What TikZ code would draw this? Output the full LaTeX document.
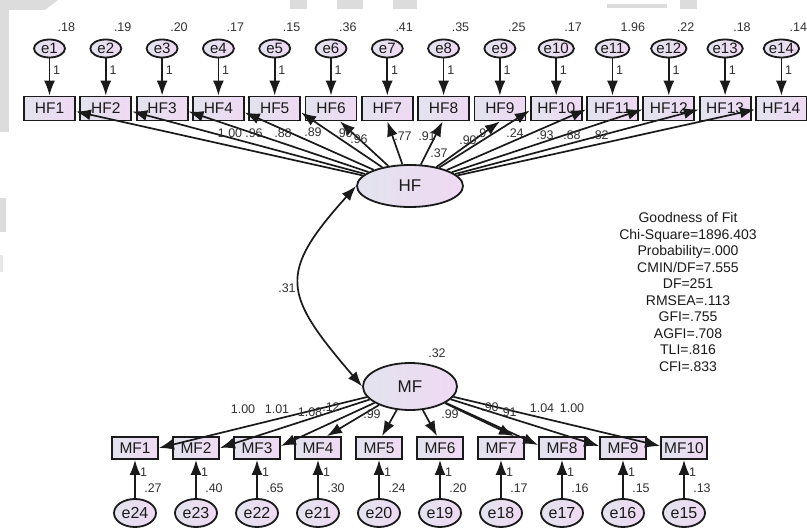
\documentclass[tikz,border=0pt]{standalone}
\usepackage{fontspec}
\setmainfont{Liberation Sans}
\usetikzlibrary{arrows.meta,shapes.geometric}
\definecolor{boxL}{HTML}{E2E3EE}
\definecolor{boxR}{HTML}{EFD9F3}
\definecolor{ink}{HTML}{1A1A1A}
\definecolor{wm}{HTML}{DCDCDC}
\begin{document}
\begin{tikzpicture}[x=1pt,y=-1pt,
  obs/.style={draw=ink, line width=1.8pt, left color=boxL, right color=boxR,
    minimum width=51pt, minimum height=24pt, inner sep=0pt, text=ink,
    font=\fontsize{15.5}{15.5}\selectfont},
  obsm/.style={obs, minimum width=46pt, minimum height=22pt},
  err/.style={ellipse, draw=ink, line width=1.8pt, left color=boxL, right color=boxR,
    minimum width=31pt, minimum height=18pt, inner sep=0pt, text=ink,
    font=\fontsize{15}{15}\selectfont},
  errm/.style={err, minimum width=42pt, minimum height=28pt,
    font=\fontsize{16}{16}\selectfont},
  lat/.style={ellipse, draw=ink, line width=1.8pt, left color=boxL, right color=boxR,
    inner sep=0pt, text=ink, font=\fontsize{17}{17}\selectfont},
  load/.style={draw=ink, line width=1.7pt, -{Latex[length=15pt,width=11pt]}},
  num/.style={inner sep=0pt, text=ink!90, font=\fontsize{12.5}{12.5}\selectfont},
]
\useasboundingbox (0,0) rectangle (807,529);
\fill[white] (0,0) rectangle (807,529);

% faint grey marks along the top and left edges
\fill[wm] (0,0) rectangle (9,132);
\fill[wm] (0,0) -- (58,0) -- (45,10) -- (9,10) -- cycle;
\fill[wm] (0,198) rectangle (6,232);
\fill[wm!70] (0,255) rectangle (3,272);
\fill[wm] (290,0) rectangle (307,9);
\fill[wm] (337,0) rectangle (363,9);
\fill[wm] (393,0) rectangle (417,9);
\fill[wm] (607,4) rectangle (667,8);
\fill[wm] (680,0) rectangle (697,9);

% HF indicators with their error terms
\foreach \i/\v in {1/.18,2/.19,3/.20,4/.17,5/.15,6/.36,7/.41,8/.35,9/.25,10/.17,11/1.96,12/.22,13/.18,14/.14}{
  \pgfmathsetmacro\x{49.5+56.3*(\i-1)}
  \node[obs] (HF\i) at (\x,108.5) {HF\i};
  \node[err] (e\i) at (\x,48.5) {e\i};
  \draw[load] (e\i) -- (HF\i);
  \node[num, anchor=west] (w\i) at (\x+3.5,70) {1};
  \node[num, anchor=west] (v\i) at (\x+8,27) {\v};
}

% MF indicators with their error terms
\foreach \i/\v in {1/.27,2/.40,3/.65,4/.30,5/.24,6/.20,7/.17,8/.16,9/.15,10/.13}{
  \pgfmathsetmacro\x{135+61*(\i-1)}
  \pgfmathtruncatemacro\k{25-\i}
  \node[obsm] (MF\i) at (\x,448) {MF\i};
  \node[errm] (e\k) at (\x,513) {e\k};
  \draw[load] (e\k) -- (MF\i);
  \node[num, anchor=west] (u\i) at (\x+5,472) {1};
  \node[num] (r\i) at (\x+18,488) {\v};
}

% latent factors
\node[lat, minimum width=106pt, minimum height=42pt] (HF) at (410,186) {HF};
\node[lat, minimum width=94pt, minimum height=47pt] (MF) at (410,386.5) {MF};
\node[num] (hfvar) at (439,153) {.37};
\node[num] (mfvar) at (437,353) {.32};

% covariance
\draw[draw=ink, line width=1.7pt, {Latex[length=15pt,width=11pt]}-{Latex[length=15pt,width=11pt]}]
  (HF.west) .. controls (277,274) and (283,294) .. (MF.west);
\node[num] (cov) at (287,288) {.31};

% HF loadings
\draw[load] (HF) -- ([yshift=-3pt]HF1.east);
\draw[load] (HF) -- ([yshift=-3pt]HF2.east);
\draw[load] (HF) -- ([yshift=-3pt]HF3.east);
\draw[load] (HF) -- ([yshift=-4pt]HF4.east);
\draw[load] (HF) -- ([yshift=-4pt]HF5.east);
\draw[load] (HF) -- ([xshift=9pt]HF6.south);
\draw[load] (HF) -- (HF7.south);
\draw[load] (HF) -- ([xshift=-1pt]HF8.south);
\draw[load] (HF) -- (HF9.south);
\draw[load] (HF) -- ([yshift=-2pt]HF10.west);
\draw[load] (HF) -- ([yshift=-1pt]HF11.west);
\draw[load] (HF) -- ([yshift=-1pt]HF12.west);
\draw[load] (HF) -- ([yshift=-1pt]HF13.west);
\draw[load] (HF) -- ([yshift=-1pt]HF14.west);

\node[num] (lh1) at (230,133) {1.00};
\node[num] (lh2) at (254,133) {.96};
\node[num] (lh3) at (283,133) {.88};
\node[num] (lh4) at (313,132) {.89};
\node[num] (lh5) at (344,133) {.90};
\node[num] (lh6) at (359,139) {.96};
\node[num] (lh7) at (403,136) {.77};
\node[num] (lh8) at (427,136) {.91};
\node[num] (lh9) at (468,140) {.90};
\node[num] (lh10) at (481,133) {.9};
\node[num] (lh11) at (515,133) {.24};
\node[num] (lh12) at (545,135) {.93};
\node[num] (lh13) at (572,135) {.88};
\node[num] (lh14) at (600,135) {.82};

% MF loadings
\draw[load] (MF) -- (MF1.east);
\draw[load] (MF) -- (MF2.east);
\draw[load] (MF) -- ([yshift=2pt]MF3.east);
\draw[load] (MF) -- ([xshift=9pt]MF4.north);
\draw[load] (MF) -- ([xshift=3pt]MF5.north);
\draw[load] (MF) -- ([xshift=-3pt]MF6.north);
\draw[load] (MF) -- ([xshift=13pt]MF7.north);
\draw[load] (MF) -- ([yshift=3pt]MF8.west);
\draw[load] (MF) -- ([yshift=2pt]MF9.west);
\draw[load] (MF) -- ([yshift=2pt]MF10.west);

\node[num] (lm1) at (243,409) {1.00};
\node[num] (lm2) at (277,409) {1.01};
\node[num] (lm3) at (310,412) {1.08};
\node[num] (lm4) at (331,407) {.12};
\node[num] (lm5) at (372,414) {.99};
\node[num] (lm6) at (450,414) {.99};
\node[num] (lm7) at (490,407) {.90};
\node[num] (lm8) at (508,412) {.91};
\node[num] (lm9) at (542,408) {1.04};
\node[num] (lm10) at (572,408) {1.00};

% fit summary
\node[align=center, inner sep=0pt, text=ink, font=\fontsize{14}{16.5}\selectfont] (fit) at (688,292)
  {Goodness of Fit\\Chi-Square=1896.403\\Probability=.000\\CMIN/DF=7.555\\DF=251\\RMSEA=.113\\GFI=.755\\AGFI=.708\\TLI=.816\\CFI=.833};
\end{tikzpicture}
\end{document}
